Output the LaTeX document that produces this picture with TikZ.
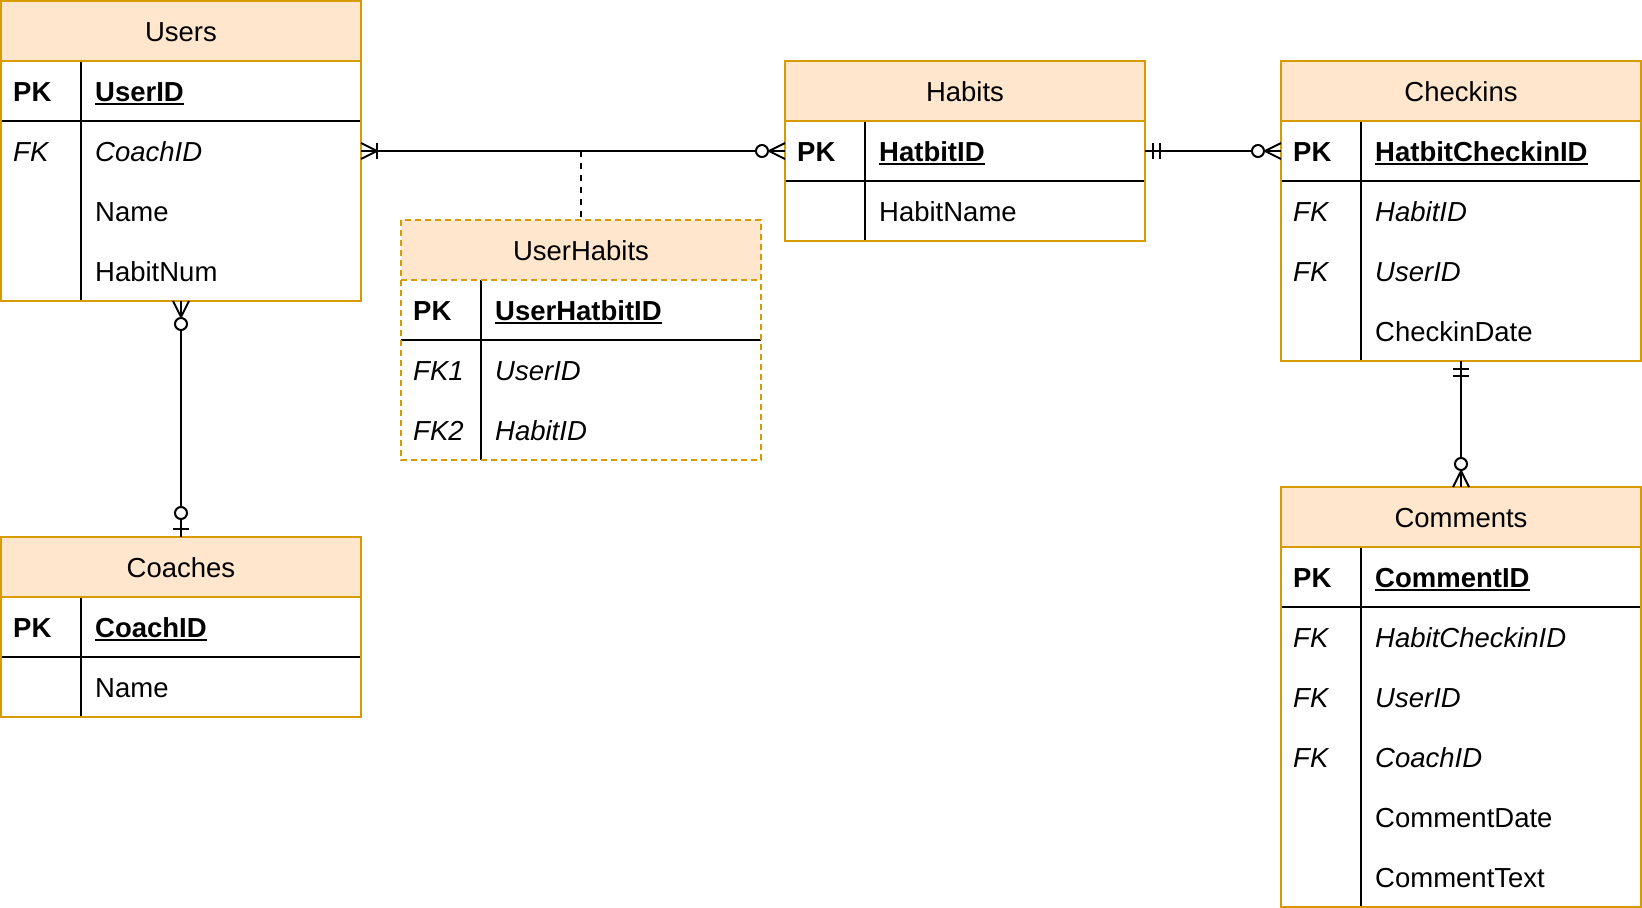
\documentclass[tikz,border=0pt]{standalone}
\usepackage{fontspec}
\setmainfont{Liberation Sans}
\definecolor{hdrfill}{HTML}{FFE6CC}
\definecolor{hdrline}{HTML}{D79B00}
\newcommand\erul[1]{\setbox0\hbox{#1}\rlap{\rule[-3.5pt]{\wd0}{1.8pt}}\box0}
\tikzset{
  erfont/.style={font=\fontsize{27.5pt}{32pt}\selectfont},
  tbl/.style={rectangle, fill=white, draw=none, inner sep=0pt, outer sep=0pt, minimum width=360pt},
  hdr/.style={rectangle, fill=hdrfill, draw=none, inner sep=0pt, outer sep=0pt, minimum width=360pt, minimum height=60pt},
  rowbox/.style={rectangle, draw=none, inner sep=0pt, outer sep=0pt, minimum width=360pt, minimum height=60pt},
  hdrtxt/.style={erfont, anchor=base, inner sep=0pt},
  keytxt/.style={erfont, anchor=base west, inner sep=0pt},
  valtxt/.style={erfont, anchor=base west, inner sep=0pt},
  inner/.style={draw=black, line width=2pt},
  border/.style={draw=hdrline, line width=2pt},
  solidb/.style={},
  dashb/.style={dash pattern=on 6pt off 4pt},
  rel/.style={draw=black, line width=2pt},
  reldash/.style={draw=black, line width=2pt, dash pattern=on 6pt off 6pt},
}
% table: name, x, y, height, title, border style
\newcommand\ertable[6]{%
  \node[tbl, minimum height=#4pt] (#1) at (#2+180,#3+#4/2) {};
  \node[hdr] (#1-h) at (#2+180,#3+30) {};
  \node[hdrtxt] (#1-t) at ([yshift=-10pt]#1-h.center) {#5};
  \draw[inner] ([yshift=-60pt]#1-h.south west) -- ([yshift=-60pt]#1-h.south east);
  \draw[inner] ([xshift=80pt]#1-h.south west) -- ([xshift=80pt]#1.south west);
  \draw[border,#6] (#1-h.south west) -- (#1-h.south east);
  \draw[border,#6] (#1.north west) rectangle (#1.south east);
}
% row: name, table x, row top y, key, value
\newcommand\errow[5]{%
  \node[rowbox] (#1) at (#2+180,#3+30) {};
  \node[keytxt] (#1-k) at ([xshift=12pt,yshift=-10.5pt]#1.west) {#4};
  \node[valtxt] (#1-v) at ([xshift=94pt,yshift=-10.5pt]#1.west) {#5};
}
% markers: point, outward angle
\newcommand\mkmany[2]{\begin{scope}[shift={(#1)},rotate=#2]
  \draw[rel] (0,8) -- (16,0) -- (0,-8);\end{scope}}
\newcommand\mkbar[3]{\begin{scope}[shift={(#1)},rotate=#2]
  \draw[rel] (#3,8) -- (#3,-8);\end{scope}}
\newcommand\mkcirc[3]{\begin{scope}[shift={(#1)},rotate=#2]
  \draw[rel,fill=white] (#3,0) circle (6pt);\end{scope}}
\begin{document}
\begin{tikzpicture}[x=1pt,y=-1pt]
\useasboundingbox (0,0) rectangle (1642,908);
% Users
\ertable{users}{1}{1}{300}{Users}{solidb}
\errow{u1}{1}{61}{\textbf{PK}}{\textbf{\erul{UserID}}}
\errow{u2}{1}{121}{\textit{FK}}{\textit{CoachID}}
\errow{u3}{1}{181}{}{Name}
\errow{u4}{1}{241}{}{HabitNum}
% Habits
\ertable{habits}{785}{61}{180}{Habits}{solidb}
\errow{h1}{785}{121}{\textbf{PK}}{\textbf{\erul{HatbitID}}}
\errow{h2}{785}{181}{}{HabitName}
% Checkins
\ertable{checkins}{1281}{61}{300}{Checkins}{solidb}
\errow{c1}{1281}{121}{\textbf{PK}}{\textbf{\erul{HatbitCheckinID}}}
\errow{c2}{1281}{181}{\textit{FK}}{\textit{HabitID}}
\errow{c3}{1281}{241}{\textit{FK}}{\textit{UserID}}
\errow{c4}{1281}{301}{}{CheckinDate}
% UserHabits
\ertable{uh}{401}{220}{240}{UserHabits}{dashb}
\errow{uh1}{401}{280}{\textbf{PK}}{\textbf{\erul{UserHatbitID}}}
\errow{uh2}{401}{340}{\textit{FK1}}{\textit{UserID}}
\errow{uh3}{401}{400}{\textit{FK2}}{\textit{HabitID}}
% Coaches
\ertable{coaches}{1}{537}{180}{Coaches}{solidb}
\errow{co1}{1}{597}{\textbf{PK}}{\textbf{\erul{CoachID}}}
\errow{co2}{1}{657}{}{Name}
% Comments
\ertable{comments}{1281}{487}{420}{Comments}{solidb}
\errow{m1}{1281}{547}{\textbf{PK}}{\textbf{\erul{CommentID}}}
\errow{m2}{1281}{607}{\textit{FK}}{\textit{HabitCheckinID}}
\errow{m3}{1281}{667}{\textit{FK}}{\textit{UserID}}
\errow{m4}{1281}{727}{\textit{FK}}{\textit{CoachID}}
\errow{m5}{1281}{787}{}{CommentDate}
\errow{m6}{1281}{847}{}{CommentText}
% relations
\draw[rel] (u2.east) -- (h1.west);
\draw[reldash] (uh.north |- u2.east) -- (uh.north);
\mkmany{u2.east}{0}
\mkbar{u2.east}{0}{16}
\mkmany{h1.west}{180}
\mkcirc{h1.west}{180}{23}
\draw[rel] (h1.east) -- (c1.west);
\mkbar{h1.east}{0}{8}
\mkbar{h1.east}{0}{15}
\mkmany{c1.west}{180}
\mkcirc{c1.west}{180}{23}
\draw[rel] (users.south) -- (coaches.north);
\mkmany{users.south}{-90}
\mkcirc{users.south}{-90}{23}
\mkbar{coaches.north}{90}{8}
\mkcirc{coaches.north}{90}{24}
\draw[rel] (checkins.south) -- (comments.north);
\mkbar{checkins.south}{-90}{8}
\mkbar{checkins.south}{-90}{15}
\mkmany{comments.north}{90}
\mkcirc{comments.north}{90}{23}
\end{tikzpicture}
\end{document}
